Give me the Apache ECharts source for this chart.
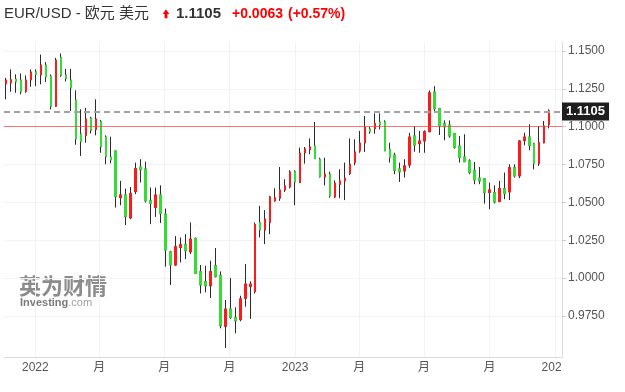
<!DOCTYPE html>
<html>
<head>
<meta charset="utf-8">
<script src="https://cdn.jsdelivr.net/npm/echarts@6/dist/echarts.min.js"></script>
<style>
  html, body { margin: 0; padding: 0; background: #fff; }
  #chart { width: 625px; height: 392px; }
</style>
</head>
<body>
<div id="chart"></div>
<script>
// EUR/USD 周K线（2021-11 ~ 2023-12），红涨绿跌
const open = [
  1.1284, 1.1290, 1.1315, 1.1308, 1.1235, 1.1310, 1.1363, 1.1343, 1.1407, 1.1334,
  1.1136, 1.1458, 1.1341, 1.1308, 1.1176, 1.0952, 1.0943, 1.1057, 1.0983, 1.1033,
  1.0932, 1.0800, 1.0840, 1.0531, 1.0549, 1.0398, 1.0571, 1.0734, 1.0721, 1.0510,
  1.0466, 1.0549, 1.0422, 1.0173, 1.0086, 1.0202, 1.0220, 1.0173, 1.0261, 1.0042,
  0.9976, 0.9949, 1.0081, 1.0015, 0.9681, 0.9795, 0.9738, 0.9725, 0.9866, 0.9945,
  0.9910, 1.0367, 1.0317, 1.0367, 1.0510, 1.0528, 1.0582, 1.0602, 1.0703, 1.0631,
  1.0828, 1.0848, 1.0873, 1.0785, 1.0668, 1.0686, 1.0536, 1.0620, 1.0642, 1.0690,
  1.0763, 1.0840, 1.0894, 1.0985, 1.0987, 1.1031, 1.1031, 1.0851, 1.0813, 1.0721,
  1.0708, 1.0747, 1.0939, 1.0888, 1.0906, 1.0967, 1.1229, 1.1121, 1.1020, 1.1011,
  1.0954, 1.0873, 1.0800, 1.0774, 1.0712, 1.0661, 1.0657, 1.0565, 1.0565, 1.0505,
  1.0591, 1.0569, 1.0729, 1.0675, 1.0910, 1.0932, 1.0888, 1.0756, 1.0894, 1.1016
]
const close = [
  1.1308, 1.1310, 1.1297, 1.1231, 1.1308, 1.1361, 1.1346, 1.1407, 1.1330, 1.1136,
  1.1440, 1.1341, 1.1319, 1.1257, 1.0921, 1.0901, 1.1051, 1.0976, 1.1051, 1.0868,
  1.0802, 1.0782, 1.0538, 1.0549, 1.0406, 1.0558, 1.0723, 1.0716, 1.0510, 1.0492,
  1.0549, 1.0426, 1.0185, 1.0086, 1.0207, 1.0220, 1.0180, 1.0257, 1.0030, 0.9954,
  0.9949, 1.0042, 1.0009, 0.9685, 0.9795, 0.9740, 0.9718, 0.9862, 0.9960, 0.9960,
  1.0352, 1.0319, 1.0389, 1.0536, 1.0530, 1.0582, 1.0609, 1.0701, 1.0635, 1.0825,
  1.0853, 1.0866, 1.0789, 1.0670, 1.0686, 1.0543, 1.0627, 1.0642, 1.0659, 1.0752,
  1.0833, 1.0892, 1.0998, 1.0967, 1.1020, 1.1013, 1.0840, 1.0796, 1.0712, 1.0703,
  1.0741, 1.0932, 1.0879, 1.0906, 1.0967, 1.1224, 1.1119, 1.1005, 1.1000, 1.0939,
  1.0862, 1.0796, 1.0769, 1.0697, 1.0648, 1.0642, 1.0565, 1.0582, 1.0503, 1.0591,
  1.0558, 1.0729, 1.0675, 1.0906, 1.0932, 1.0877, 1.0756, 1.0894, 1.1005, 1.1105
]
const low = [
  1.1181, 1.1231, 1.1224, 1.1214, 1.1224, 1.1264, 1.1268, 1.1280, 1.1295, 1.1115,
  1.1132, 1.1330, 1.1299, 1.1103, 1.0881, 1.0807, 1.0894, 1.0956, 1.0943, 1.0828,
  1.0752, 1.0758, 1.0466, 1.0481, 1.0350, 1.0389, 1.0554, 1.0631, 1.0499, 1.0356,
  1.0404, 1.0363, 1.0075, 0.9954, 1.0081, 1.0103, 1.0125, 1.0158, 1.0026, 0.9898,
  0.9905, 0.9868, 1.0004, 0.9668, 0.9538, 0.9730, 0.9635, 0.9714, 0.9811, 0.9730,
  0.9898, 1.0268, 1.0224, 1.0290, 1.0505, 1.0510, 1.0569, 1.0593, 1.0481, 1.0627,
  1.0756, 1.0818, 1.0789, 1.0664, 1.0613, 1.0531, 1.0528, 1.0528, 1.0515, 1.0681,
  1.0745, 1.0828, 1.0833, 1.0954, 1.0954, 1.0983, 1.0840, 1.0763, 1.0686, 1.0635,
  1.0664, 1.0729, 1.0835, 1.0828, 1.0828, 1.0967, 1.1099, 1.0945, 1.0910, 1.0927,
  1.0855, 1.0763, 1.0769, 1.0686, 1.0620, 1.0620, 1.0492, 1.0455, 1.0492, 1.0505,
  1.0521, 1.0515, 1.0664, 1.0660, 1.0877, 1.0844, 1.0719, 1.0741, 1.0890, 1.0989
]
const high = [
  1.1323, 1.1379, 1.1346, 1.1352, 1.1339, 1.1379, 1.1379, 1.1477, 1.1427, 1.1346,
  1.1455, 1.1484, 1.1383, 1.1383, 1.1240, 1.1115, 1.1125, 1.1066, 1.1181, 1.1044,
  1.0943, 1.0934, 1.0840, 1.0642, 1.0591, 1.0602, 1.0763, 1.0785, 1.0769, 1.0598,
  1.0598, 1.0613, 1.0459, 1.0180, 1.0277, 1.0268, 1.0290, 1.0367, 1.0268, 1.0086,
  1.0081, 1.0114, 1.0198, 1.0044, 0.9855, 1.0000, 0.9806, 0.9883, 1.0092, 0.9978,
  1.0367, 1.0477, 1.0449, 1.0543, 1.0593, 1.0734, 1.0653, 1.0712, 1.0712, 1.0862,
  1.0866, 1.0923, 1.1031, 1.0795, 1.0795, 1.0703, 1.0646, 1.0719, 1.0763, 1.0923,
  1.0917, 1.0972, 1.1071, 1.0998, 1.1088, 1.1088, 1.1042, 1.0894, 1.0828, 1.0763,
  1.0785, 1.0960, 1.1005, 1.0972, 1.0976, 1.1240, 1.1268, 1.1121, 1.1042, 1.1042,
  1.0960, 1.0939, 1.0950, 1.0785, 1.0767, 1.0734, 1.0657, 1.0631, 1.0613, 1.0642,
  1.0697, 1.0752, 1.0752, 1.0910, 1.0960, 1.1016, 1.0894, 1.1005, 1.1038, 1.1115
]

const firstWeek = Date.UTC(2021, 10, 21)
const WEEK = 7 * 24 * 3600 * 1000
const weeks = open.map((_, i) => firstWeek + i * WEEK)

const lastPrice = 1.1105
const prevClose = 1.1042
const change = '+0.0063'
const changePct = '(+0.57%)'

const yTicks = [0.975, 1.0, 1.025, 1.05, 1.075, 1.1, 1.125, 1.15]
const xTicks = [
  Date.UTC(2022, 0, 1), Date.UTC(2022, 3, 1), Date.UTC(2022, 6, 1), Date.UTC(2022, 9, 1),
  Date.UTC(2023, 0, 1), Date.UTC(2023, 3, 1), Date.UTC(2023, 6, 1), Date.UTC(2023, 9, 1),
  Date.UTC(2024, 0, 1)
]

const RED = '#ff1a1a'
const GREEN = '#33dd33'
const FONT = '"Liberation Sans", Arial, "Noto Sans CJK SC", sans-serif'

const chart = echarts.init(document.getElementById('chart'))

// 影线层 + 实体层（实体覆盖在深色影线上）
const wickData = weeks.map((t, i) => [t, open[i], close[i], low[i], high[i]])
const bodyData = weeks.map((t, i) => [t, open[i], close[i], Math.min(open[i], close[i]), Math.max(open[i], close[i])])

const option = {
  animation: false,
  textStyle: { fontFamily: FONT },
  grid: { left: 4, right: 63, top: 42, bottom: 35, outerBoundsMode: 'none' },
  xAxis: {
    type: 'value',
    min: Date.UTC(2021, 10, 18),
    max: Date.UTC(2024, 0, 11),
    axisLine: { lineStyle: { color: '#dcdcdc' } },
    axisTick: { show: false, customValues: xTicks },
    axisLabel: {
      customValues: xTicks,
      color: '#555',
      fontSize: 12,
      margin: 5,
      formatter: (v) => {
        const d = new Date(v)
        return d.getUTCMonth() === 0 ? String(d.getUTCFullYear()) : '月'
      }
    },
    splitLine: { show: true, lineStyle: { color: '#f3f3f3' } }
  },
  yAxis: {
    type: 'value',
    position: 'right',
    min: 0.9478,
    max: 1.156,
    axisLine: { show: true, lineStyle: { color: '#dcdcdc' } },
    axisTick: { show: true, length: 4, customValues: yTicks, lineStyle: { color: '#ccc' } },
    axisLabel: {
      customValues: yTicks,
      color: '#555',
      fontSize: 12,
      margin: 6,
      formatter: (v) => v.toFixed(4)
    },
    splitLine: { lineStyle: { color: '#f2f2f2' } }
  },
  series: [
    {
      name: 'wick',
      type: 'candlestick',
      data: wickData,
      encode: { x: 0, y: [1, 2, 3, 4] },
      barWidth: 2,
      silent: true,
      itemStyle: {
        color: '#2b2b2b', color0: '#2b2b2b',
        borderColor: '#2b2b2b', borderColor0: '#2b2b2b', borderWidth: 1
      }
    },
    {
      name: 'EUR/USD',
      type: 'candlestick',
      data: bodyData,
      encode: { x: 0, y: [1, 2, 3, 4] },
      barWidth: 2,
      silent: true,
      itemStyle: {
        color: RED, color0: GREEN,
        borderColor: RED, borderColor0: GREEN, borderWidth: 1
      }
    },
    {
      // 昨收线 + 现价线
      name: 'ref',
      type: 'line',
      data: [],
      silent: true,
      markLine: {
        silent: true,
        symbol: 'none',
        animation: false,
        data: [
          {
            yAxis: prevClose,
            lineStyle: { color: 'rgba(255, 60, 60, 0.7)', width: 1, type: 'solid' },
            label: { show: false }
          },
          {
            yAxis: lastPrice,
            lineStyle: { color: '#a3a3a3', width: 2, type: [6, 4] },
            label: {
              show: true,
              position: 'end',
              distance: 0,
              formatter: lastPrice.toFixed(4),
              backgroundColor: '#1e1e1e',
              color: '#fff',
              fontWeight: 'bold',
              fontSize: 13,
              padding: [3, 4, 2, 4]
            }
          }
        ]
      }
    }
  ],
  graphic: [
    {
      type: 'text', left: 4, top: 6,
      style: { text: 'EUR/USD - 欧元 美元', font: '15px ' + FONT, fill: '#333' }
    },
    {
      type: 'polygon',
      shape: { points: [[162.7, 14], [166, 9.3], [169.3, 14], [167.4, 14], [167.4, 18.3], [164.6, 18.3], [164.6, 14]] },
      style: { fill: '#f00' }
    },
    {
      type: 'text', left: 176, top: 6,
      style: { text: lastPrice.toFixed(4), font: 'bold 15px ' + FONT, fill: '#333' }
    },
    {
      type: 'text', left: 232, top: 7,
      style: { text: change, font: 'bold 14px ' + FONT, fill: '#f00' }
    },
    {
      type: 'text', left: 288, top: 7,
      style: { text: changePct, font: 'bold 14px ' + FONT, fill: '#f00' }
    },
    {
      type: 'text', left: 19, top: 275,
      style: { text: '英为财情', font: 'bold 22px "Noto Sans CJK SC", sans-serif', fill: '#8c8c8c' }
    },
    {
      type: 'text', left: 20, top: 297,
      style: {
        text: '{b|Investing}{c|.com}',
        rich: {
          b: { font: 'bold 11px ' + FONT, fill: '#7a7a7a' },
          c: { font: '11px ' + FONT, fill: '#a0a0a0' }
        }
      }
    },
    {
      type: 'rect', z: 100,
      shape: { x: 561, y: 359, width: 64, height: 30 },
      style: { fill: '#fff' }
    }
  ]
}

chart.setOption(option)
window.addEventListener('resize', () => chart.resize())
</script>
</body>
</html>
